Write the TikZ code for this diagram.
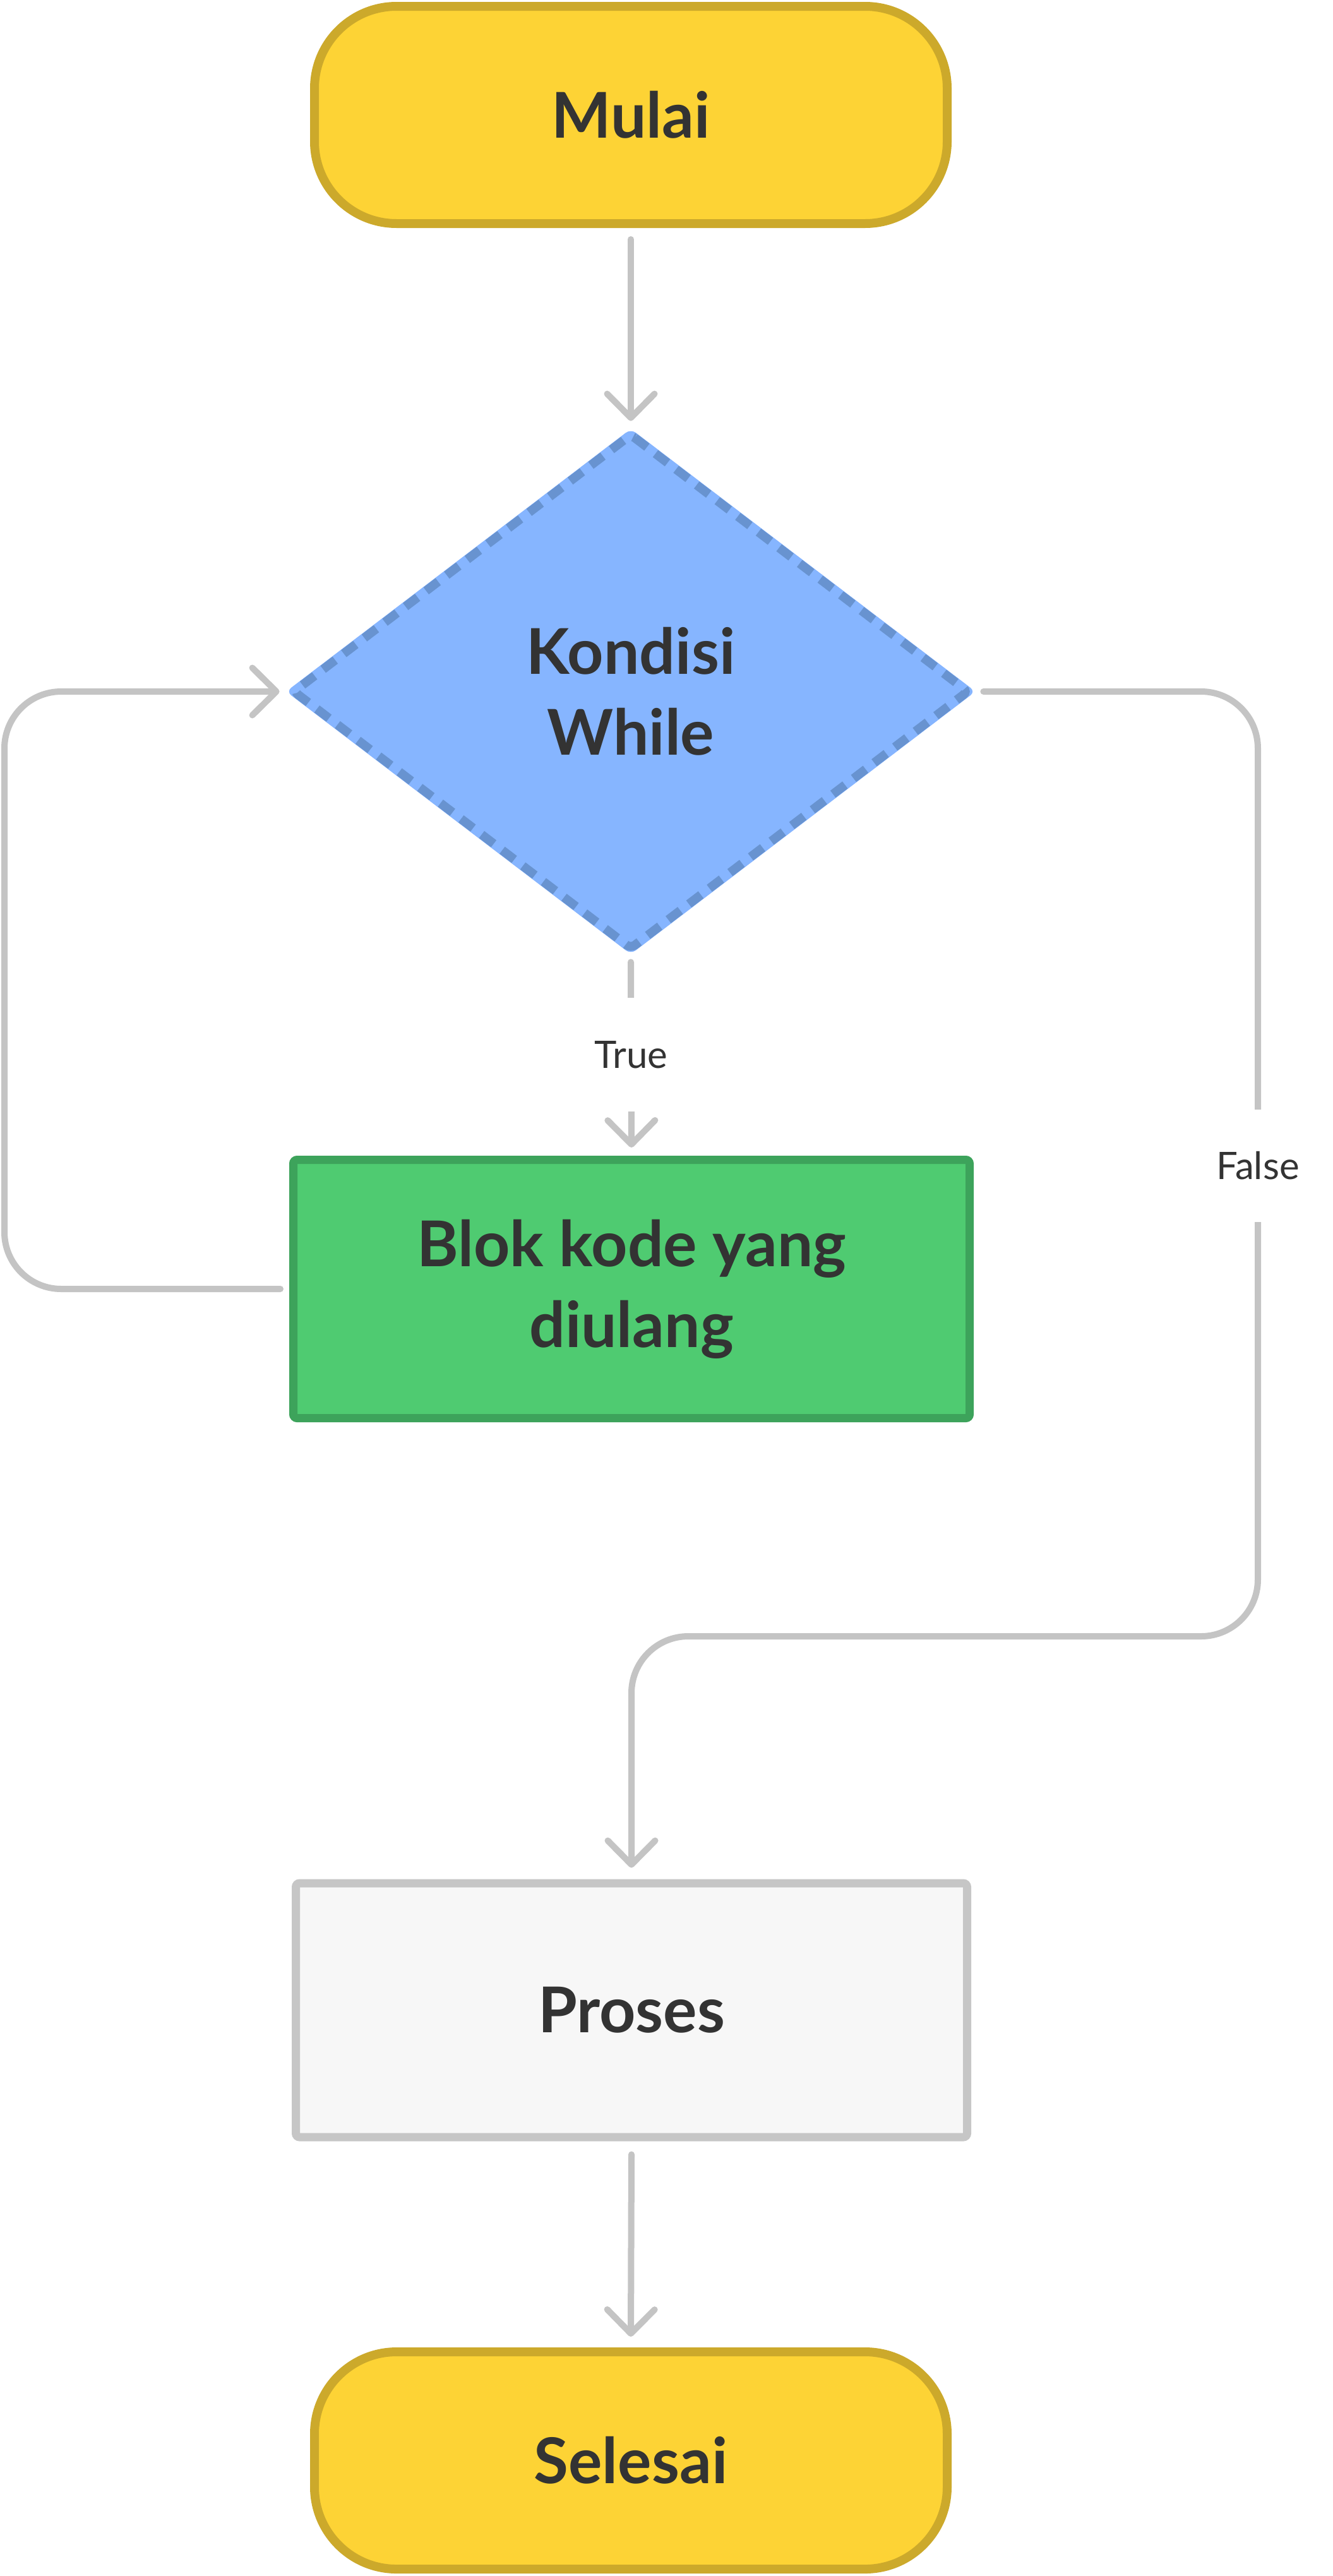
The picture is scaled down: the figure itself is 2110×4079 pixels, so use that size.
\documentclass[tikz,border=0pt]{standalone}
\usepackage{fontspec}
\IfFontExistsTF{Lato Bold}{\setmainfont{Lato}[BoldFont={Lato Bold}]}{\setmainfont{Liberation Sans}}
\usetikzlibrary{shapes.geometric,arrows.meta}
\definecolor{txt}{HTML}{333333}
\definecolor{lineg}{HTML}{C4C4C4}
\definecolor{yfill}{HTML}{FDD335}
\definecolor{ydraw}{HTML}{CCA92B}
\definecolor{bfill}{HTML}{86B5FF}
\definecolor{bdraw}{HTML}{6893D0}
\definecolor{gfill}{HTML}{4FCB71}
\definecolor{gdraw}{HTML}{3DA35B}
\definecolor{pfill}{HTML}{F7F7F7}
\definecolor{pdraw}{HTML}{C6C6C6}
\begin{document}
\begin{tikzpicture}[x=0.5pt,y=-0.5pt,
  bigtxt/.style={font=\fontsize{50}{64}\selectfont\bfseries, text=txt, align=center},
  term/.style={bigtxt, draw=ydraw, fill=yfill, line width=7pt, rounded corners=65pt,
    minimum width=501pt, minimum height=172pt, inner sep=0pt},
  dia/.style={bigtxt, diamond, fill=bfill, rounded corners=5pt,
    minimum width=546pt, minimum height=416pt, inner sep=0pt, aspect=1.3},
  diaborder/.style={draw=bdraw, line width=7pt, dash pattern=on 12pt off 8.5pt, rounded corners=4pt},
  greenbox/.style={bigtxt, draw=gdraw, fill=gfill, line width=6.5pt, rounded corners=3pt,
    minimum width=535.5pt, minimum height=204.5pt, inner sep=0pt},
  procbox/.style={bigtxt, draw=pdraw, fill=pfill, line width=6.5pt, rounded corners=3pt,
    minimum width=531.5pt, minimum height=201pt, inner sep=0pt},
  lbl/.style={font=\fontsize{30}{36}\selectfont, text=txt, fill=white, inner xsep=6pt},
  conn/.style={draw=lineg, line width=5pt, line cap=round, line join=round},
  arr/.style={-{Straight Barb[length=19pt,width=37.5pt,line cap=round,line join=round]}}]
\useasboundingbox[fill=white] (0,0) rectangle (2110,4079);

\node[term] (mulai) at (999,182) {Mulai};
\node[dia] (kond) at (999,1095) {Kondisi\\While};
\draw[diaborder] ([yshift=-5pt]kond.north) -- ([xshift=-6.5pt]kond.east)
  -- ([yshift=5pt]kond.south) -- ([xshift=6.5pt]kond.west) -- cycle;
\node[greenbox] (blok) at (1000,2041) {Blok kode yang\\diulang};
\node[procbox] (proses) at (1000,3183) {Proses};
\node[term] (selesai) at (999,3896) {Selesai};

\coordinate (LL) at (7,1095);
\coordinate (RR) at (1992,2591);

\draw[conn,arr] ([yshift=-9pt]mulai.south) -- ([yshift=6pt]kond.north);
\draw[conn,arr] ([yshift=-6pt]kond.south) -- node[lbl,minimum height=90pt]{True} ([yshift=6.5pt]blok.north);
\draw[conn,arr,rounded corners=45pt] ([xshift=-7pt]blok.west) -| (LL) -- ([xshift=-5pt]kond.west);
\draw[conn,arr,rounded corners=45pt] ([xshift=6pt]kond.east) -| (RR) -| ([yshift=9pt]proses.north);
\node[lbl,minimum height=89pt] (false) at (1992,1846) {False};
\draw[conn,arr] ([yshift=-10.5pt]proses.south) -- ([yshift=8.5pt]selesai.north);
\end{tikzpicture}
\end{document}
